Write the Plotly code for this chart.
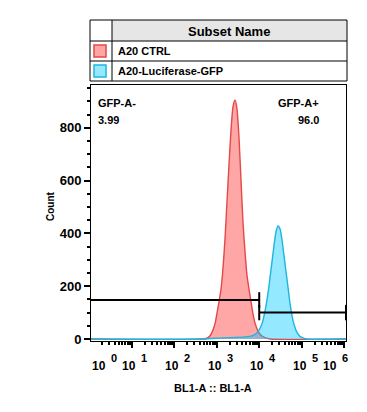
import plotly.graph_objects as go

# ---------------- data ----------------
series_names = ["A20 CTRL", "A20-Luciferase-GFP"]

ctrl_x = [1.1, 560, 659, 775, 912, 1074, 1197, 1264, 1407, 1568, 1746, 1945, 2167, 2419,
          2698, 3006, 3350, 3733, 4159, 4634, 5164, 6081, 7145, 7962, 9377, 11016,
          13680, 17950, 1.1e6]
ctrl_y = [0, 2, 8, 25, 58, 120, 165, 190, 270, 380, 520, 660, 790, 880,
          905, 870, 760, 600, 440, 330, 240, 165, 95, 60, 30, 14,
          5, 0, 0]

gfp_x = [1.1, 540, 912, 2056, 4634, 6780, 8420, 10000, 11770, 13860, 16310, 18190,
         20240, 22550, 25130, 28000, 31200, 34700, 38700, 43130, 48060, 53550,
         59680, 65900, 77500, 91200, 107200, 133400, 1.1e6]
gfp_y = [0, 0, 3, 5, 8, 12, 20, 35, 60, 110, 180, 240,
         300, 360, 410, 428, 415, 370, 310, 250, 190, 130,
         85, 55, 25, 10, 4, 0, 0]

gate_names = ["GFP-A-", "GFP-A+"]
gate_pcts = ["3.99", "96.0"]
gate_lo = [1.1, 10000]
gate_hi = [10000, 1.1e6]
gate_level = [148, 100]

x_exponents = [0, 1, 2, 3, 4, 5, 6]
y_ticks = [0, 200, 400, 600, 800]
x_title = "BL1-A :: BL1-A"
y_title = "Count"
legend_header = "Subset Name"

# ---------------- layout geometry ----------------
W, H = 367, 412
L, R, T, B = 91, 346, 85, 341

def px(x):
    return (x - L) / (R - L)

def py(y):
    return (B - y) / (B - T)

fill_cols = ["rgba(255,70,70,0.48)", "rgba(0,200,255,0.42)"]
line_cols = ["rgb(228,72,72)", "rgb(28,182,222)"]
swatch_fill = ["rgb(255,165,165)", "rgb(150,232,255)"]

FONT = "Liberation Sans"

def f(size):
    return dict(family=FONT, size=size, color="black", weight="bold")

fig = go.Figure()
for xs, ys, name, fc, lc in [(ctrl_x, ctrl_y, series_names[0], fill_cols[0], line_cols[0]),
                             (gfp_x, gfp_y, series_names[1], fill_cols[1], line_cols[1])]:
    fig.add_trace(go.Scatter(x=xs, y=ys, name=name, mode="lines", fill="tozeroy",
                             fillcolor=fc, line=dict(color=lc, width=1.4, shape="spline",
                                                     smoothing=0.6),
                             showlegend=False, hoverinfo="skip"))

for lo, hi, lvl in zip(gate_lo, gate_hi, gate_level):
    fig.add_trace(go.Scatter(x=[lo, hi], y=[lvl, lvl], mode="lines+markers",
                             line=dict(color="black", width=2),
                             marker=dict(symbol="line-ns", size=11,
                                         line=dict(color="black", width=2)),
                             cliponaxis=False, showlegend=False, hoverinfo="skip"))

def txt(x, y, s, size=11, xa="center", angle=0):
    return dict(x=px(x), y=py(y), xref="paper", yref="paper", text=s, showarrow=False,
                xanchor=xa, yanchor="middle", textangle=angle, font=f(size))

annotations = []
# gate labels
annotations += [
    txt(96, 103, gate_names[0], xa="left"),
    txt(96, 120, gate_pcts[0], xa="left"),
    txt(321, 103, gate_names[1], xa="right"),
    txt(321, 120, gate_pcts[1], xa="right"),
]
# x tick labels: base "10" plus raised exponent, placed like the original software
label_px = [105, 135, 178, 221, 263, 306, 336]
for e, lp in zip(x_exponents, label_px):
    annotations.append(txt(lp + 3, 366, "10", size=12, xa="right"))
    annotations.append(txt(lp + 4, 358, str(e), size=11, xa="left"))
# axis titles
annotations.append(txt(213, 388, x_title))
annotations.append(txt(50, 206, y_title, size=10, angle=-90))
# legend table texts
annotations.append(txt(229, 31, legend_header, size=13))
for i, nm in enumerate(series_names):
    annotations.append(txt(116, 51 + 20 * i, nm, xa="left"))

shapes = []
shapes.append(dict(type="rect", xref="paper", yref="paper", x0=px(112), x1=px(347),
                   y0=py(20), y1=py(41), fillcolor="#e6e6e6", line=dict(width=0), layer="below"))
shapes.append(dict(type="rect", xref="paper", yref="paper", x0=px(90), x1=px(347),
                   y0=py(20), y1=py(81), line=dict(color="black", width=1)))
for yy in [41, 61]:
    shapes.append(dict(type="line", xref="paper", yref="paper", x0=px(90), x1=px(347),
                       y0=py(yy), y1=py(yy), line=dict(color="black", width=1)))
shapes.append(dict(type="line", xref="paper", yref="paper", x0=px(112), x1=px(112),
                   y0=py(20), y1=py(81), line=dict(color="black", width=1)))
for i in range(2):
    shapes.append(dict(type="rect", xref="paper", yref="paper", x0=px(94), x1=px(106),
                       y0=py(45 + 20 * i), y1=py(57 + 20 * i), fillcolor=swatch_fill[i],
                       line=dict(color=line_cols[i], width=1.5)))

fig.update_layout(
    width=W, height=H,
    margin=dict(l=L, r=W - R, t=T, b=H - B, autoexpand=False),
    paper_bgcolor="white", plot_bgcolor="white",
    font=f(11),
    showlegend=False,
    annotations=annotations,
    shapes=shapes,
    xaxis=dict(type="log", range=[0.042, 6.042], tick0=0, dtick=1,
               ticks="outside", ticklen=6, tickwidth=1.5, tickcolor="black",
               showticklabels=False, showgrid=False, zeroline=False,
               showline=True, linecolor="black", linewidth=1, mirror=True,
               minor=dict(ticks="outside", ticklen=3, tickcolor="black", dtick="D1",
                          showgrid=False)),
    yaxis=dict(range=[-7.6, 962], tickvals=y_ticks,
               ticks="outside", ticklen=6, tickwidth=1.5, tickcolor="black",
               tickfont=f(13),
               showgrid=False, zeroline=False,
               showline=True, linecolor="black", linewidth=1, mirror=True,
               minor=dict(ticks="outside", ticklen=3, tickcolor="black", dtick=50,
                          showgrid=False)),
)

fig.write_html("out.html", config={"displayModeBar": False},
               post_script="document.body.style.margin='0';document.body.style.padding='0';")
